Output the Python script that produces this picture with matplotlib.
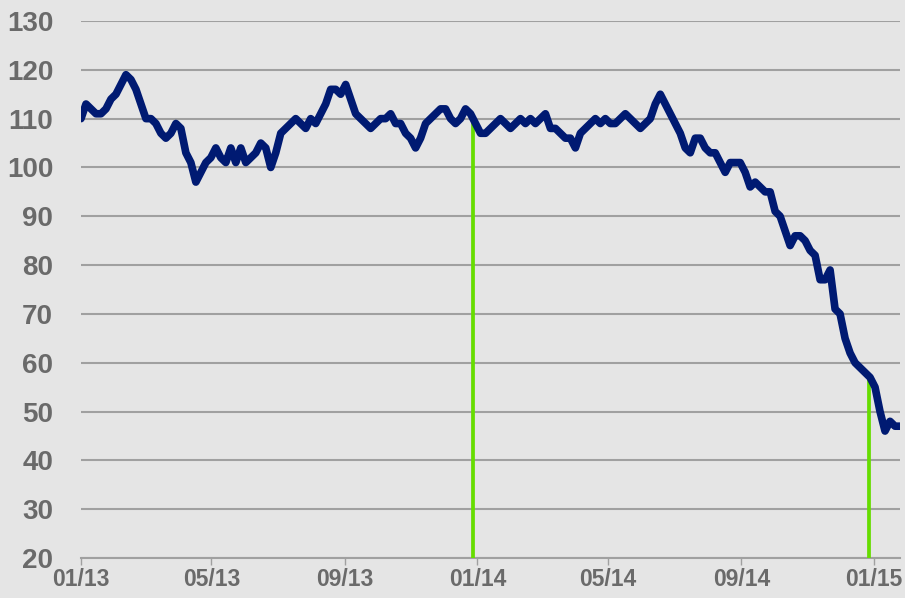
import matplotlib
matplotlib.use("Agg")
import matplotlib.pyplot as plt
import matplotlib.dates as mdates
import pandas as pd

values = [110, 113, 112, 111, 111, 112, 114, 115, 117, 119, 118, 116, 113, 110, 110, 109,
          107, 106, 107, 109, 108, 103, 101, 97, 99, 101, 102, 104, 102, 101, 104, 101,
          104, 101, 102, 103, 105, 104, 100, 103, 107, 108, 109, 110, 109, 108, 110, 109,
          111, 113, 116, 116, 115, 117, 114, 111, 110, 109, 108, 109, 110, 110, 111, 109,
          109, 107, 106, 104, 106, 109, 110, 111, 112, 112, 110, 109, 110, 112, 111, 109,
          107, 107, 108, 109, 110, 109, 108, 109, 110, 109, 110, 109, 110, 111, 108, 108,
          107, 106, 106, 104, 107, 108, 109, 110, 109, 110, 109, 109, 110, 111, 110, 109,
          108, 109, 110, 113, 115, 113, 111, 109, 107, 104, 103, 106, 106, 104, 103, 103,
          101, 99, 101, 101, 101, 99, 96, 97, 96, 95, 95, 91, 90, 87, 84, 86,
          86, 85, 83, 82, 77, 77, 79, 71, 70, 65, 62, 60, 59, 58, 57, 55,
          50, 46, 48, 47, 47]
start_date = "2013-01-01"
end_date = "2015-01-25"
dates = pd.date_range(start_date, end_date, periods=len(values))

marker_dates = ["2013-12-28", "2014-12-27"]
marker_values = [109.3, 57.0]

yticks = list(range(20, 131, 10))
xtick_dates = ["2013-01-01", "2013-05-01", "2013-09-01", "2014-01-01",
               "2014-05-01", "2014-09-01", "2015-01-01"]
xtick_labels = ["01/13", "05/13", "09/13", "01/14", "05/14", "09/14", "01/15"]

bg = "#e5e5e5"
fig = plt.figure(figsize=(9.05, 5.98), dpi=100, facecolor=bg)
ax = fig.add_axes([81/905, 40/598, (900-81)/905, (558-21)/598])
ax.set_facecolor(bg)

for d, v in zip(marker_dates, marker_values):
    ax.vlines(pd.Timestamp(d), 20, v, color="#66dd00", linewidth=2.7, zorder=2)

ax.plot(dates, values, color="#001a72", linewidth=5.5, solid_joinstyle="round",
        solid_capstyle="round", zorder=3)

ax.set_ylim(20, 130)
ax.set_xlim(pd.Timestamp("2013-01-01"), pd.Timestamp(end_date))
ax.set_yticks(yticks)
ax.yaxis.grid(True, color="#a0a0a0", linewidth=1.5)
ax.set_axisbelow(True)
ax.set_xticks([pd.Timestamp(d) for d in xtick_dates])
ax.set_xticklabels(xtick_labels)

for s in ["top", "right", "left"]:
    ax.spines[s].set_visible(False)
ax.spines["bottom"].set_color("#a0a0a0")
ax.spines["bottom"].set_linewidth(1.5)
ax.spines["bottom"].set_zorder(1)

ax.tick_params(axis="y", length=0, pad=20, labelsize=20, labelcolor="#6a6a6a")
ax.tick_params(axis="x", length=5, width=1, color="#a0a0a0", pad=2,
               labelsize=16.5, labelcolor="#6a6a6a")
for lbl in ax.get_xticklabels() + ax.get_yticklabels():
    lbl.set_fontfamily("Liberation Sans")
    lbl.set_fontweight("bold")

fig.savefig("out.png", dpi=100, facecolor=bg)
